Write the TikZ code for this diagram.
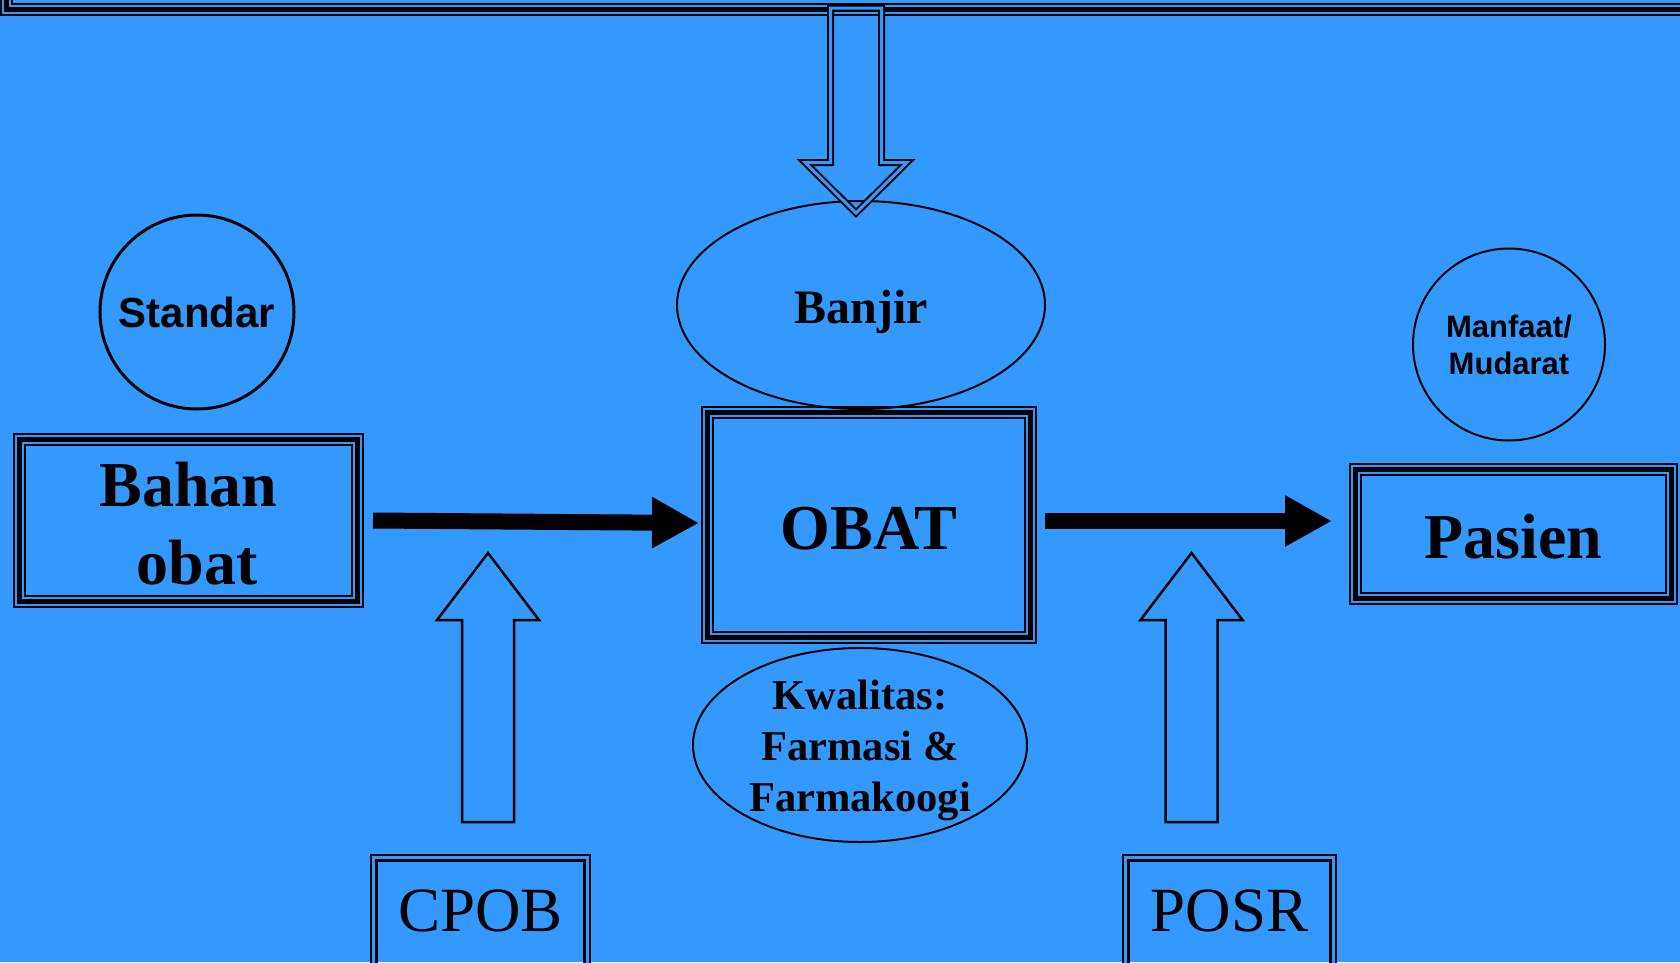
\documentclass[tikz,border=0pt]{standalone}
\usepackage{fontspec}
\setmainfont{Liberation Serif}
\newfontfamily\arialfont{Liberation Sans}
\usetikzlibrary{arrows.meta,shapes.geometric,calc}
\definecolor{bg}{RGB}{51,153,255}
\tikzset{
  triplebox/.style={rectangle, inner sep=0pt, outer sep=0pt,
    preaction={draw=black, line width=13pt},
    preaction={draw=bg, line width=9pt},
    draw=black, line width=5pt},
  dblbox/.style={rectangle, inner sep=0pt, outer sep=0pt,
    draw=black, line width=2.2pt, double=bg, double distance=3.2pt},
  dblarrow/.style={draw=black, line width=2pt, double=bg, double distance=3pt},
  blockarrow/.style={draw=black, line width=2.5pt, line join=miter},
  flowarrow/.style={draw=black, line width=16pt, -{Triangle[length=47pt,width=48pt]}},
  bigserif/.style={font=\bfseries\fontsize{64}{78}\selectfont},
  plainserif/.style={font=\fontsize{63}{75}\selectfont},
}
\begin{document}
\begin{tikzpicture}[x=1pt,y=-1pt]
\fill[bg] (0,0) rectangle (1680,962);
\useasboundingbox (0,0) rectangle (1680,962);

% top bar
\node[triplebox, minimum width=1720pt, minimum height=100pt, anchor=south west] (topbar) at (6.5,9.5) {};

% main boxes
\node[triplebox, minimum width=338pt, minimum height=162pt, bigserif, align=center] (bahan) at (188.5,520.5) {\rule{0pt}{50pt}Bahan\\\hspace*{17pt}obat};
\node[triplebox, minimum width=323pt, minimum height=225pt, bigserif, text height=48pt, text depth=0pt] (obat) at (869,525) {OBAT};
\node[triplebox, minimum width=316pt, minimum height=129pt, bigserif, text height=49pt, text depth=0pt] (pasien) at (1513.5,534) {Pasien};

% circles
\node[circle, draw=black, line width=3pt, minimum size=194pt, inner sep=0pt,
  font=\arialfont\bfseries\fontsize{42}{50}\selectfont] (standar) at (197,312) {Standar};
\node[circle, draw=black, line width=2pt, minimum size=192pt, inner sep=0pt, align=center,
  font=\arialfont\bfseries\fontsize{31}{37}\selectfont] (manfaat) at (1509,344.5) {Manfaat/\\Mudarat};

% ellipses
\node[ellipse, draw=black, line width=2pt, minimum width=368pt, minimum height=208pt, inner sep=0pt,
  font=\bfseries\fontsize{48}{58}\selectfont, text height=37pt, text depth=0pt] (banjir) at (861,305) {Banjir};
\node[ellipse, draw=black, line width=2pt, minimum width=334pt, minimum height=194pt, inner sep=0pt] (kwal) at (860,745) {};
\node[align=center, font=\bfseries\fontsize{42.5}{51}\selectfont] (kwaltext) at (860,750) {Kwalitas:\\Farmasi \&\\Farmakoogi};

% bottom boxes
\node[dblbox, minimum width=213.4pt, minimum height=200pt, anchor=north] (cpobbox) at (480.5,857.8) {};
\node[plainserif] (cpob) at (480.5,911) {CPOB};
\node[dblbox, minimum width=207.4pt, minimum height=200pt, anchor=north] (posrbox) at (1229.5,857.8) {};
\node[plainserif] (posr) at (1229.5,911) {POSR};

% flow arrows
\draw[flowarrow] ($(bahan.east)+(15.5,0)$) -- ($(obat.west)+(-8.5,-2)$);
\draw[flowarrow] ($(obat.east)+(14.5,-4)$) -- ($(pasien.west)+(-23.5,-13)$);

% block arrows
\draw[blockarrow] (462,822) -- (462,620) -- (437,620) -- (488,553) -- (539,620) -- (514,620) -- (514,822) -- cycle;
\draw[blockarrow] (1165.5,822) -- (1165.5,620) -- (1140.5,620) -- (1191.5,553) -- (1242.5,620) -- (1217.5,620) -- (1217.5,822) -- cycle;
\draw[dblarrow] (830.5,8) -- (830.5,162.5) -- (805,162.5) -- (856,213) -- (907,162.5) -- (881.5,162.5) -- (881.5,8) -- cycle;
\end{tikzpicture}
\end{document}
